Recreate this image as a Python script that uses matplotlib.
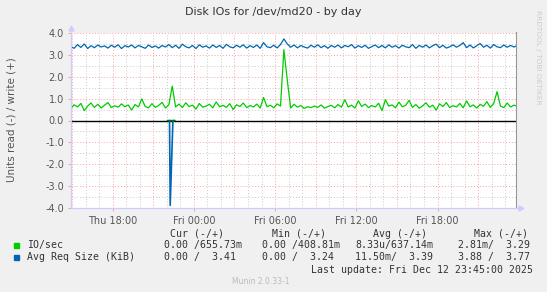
import numpy as np
import matplotlib
matplotlib.use("Agg")
import matplotlib.pyplot as plt
from matplotlib.lines import Line2D

# --- data (hours since Thu 15:00, one sample every 15 minutes from -0.1 h) ---
t_start = -0.1
t_step = 0.25

io_write = [
    0.55, 0.72, 0.62, 0.78, 0.45, 0.66, 0.80, 0.60, 0.74, 0.57,
    0.70, 0.82, 0.59, 0.67, 0.61, 0.76, 0.63, 0.71, 0.48, 0.73,
    0.62, 0.99, 0.64, 0.58, 0.77, 0.60, 0.69, 0.83, 0.57, 0.72,
    1.57, 0.62, 0.75, 0.59, 0.81, 0.64, 0.70, 0.52, 0.78, 0.61,
    0.66, 0.74, 0.58, 0.85, 0.63, 0.69, 0.60, 0.77, 0.50, 0.72,
    0.64, 0.80, 0.59, 0.68, 0.62, 0.75, 0.57, 1.05, 0.63, 0.70,
    0.58, 0.76, 0.66, 3.24, 1.85, 0.57, 0.74, 0.61, 0.68, 0.55,
    0.63, 0.59, 0.66, 0.60, 0.71, 0.56, 0.64, 0.69, 0.58, 0.73,
    0.61, 0.95, 0.62, 0.70, 0.57, 0.90, 0.64, 0.75, 0.59, 0.68,
    0.62, 0.79, 0.45, 0.95, 0.66, 0.71, 0.58, 0.84, 0.63, 0.69,
    0.92, 0.60, 0.73, 0.56, 0.67, 0.81, 0.61, 0.70, 0.47, 0.76,
    0.64, 0.82, 0.59, 0.68, 0.62, 0.78, 0.58, 0.90, 0.63, 0.71,
    0.57, 0.74, 0.65, 0.86, 0.60, 0.77, 1.32, 0.66, 0.59, 0.80,
    0.62, 0.70, 0.66,
]
req_write = [
    3.38, 3.30, 3.47, 3.34, 3.50, 3.29, 3.42, 3.33, 3.45, 3.36,
    3.41, 3.31, 3.44, 3.35, 3.46, 3.29, 3.42, 3.36, 3.45, 3.32,
    3.43, 3.37, 3.30, 3.45, 3.34, 3.41, 3.31, 3.43, 3.36, 3.47,
    3.33, 3.44, 3.30, 3.49, 3.37, 3.32, 3.43, 3.29, 3.46, 3.35,
    3.41, 3.31, 3.45, 3.34, 3.43, 3.30, 3.48, 3.37, 3.32, 3.44,
    3.35, 3.46, 3.31, 3.42, 3.34, 3.45, 3.30, 3.56, 3.37, 3.33,
    3.44, 3.32, 3.47, 3.73, 3.50, 3.35, 3.45, 3.32, 3.43, 3.36,
    3.31, 3.44, 3.35, 3.46, 3.33, 3.42, 3.30, 3.43, 3.35, 3.45,
    3.32, 3.43, 3.37, 3.47, 3.31, 3.42, 3.34, 3.44, 3.30, 3.38,
    3.45, 3.33, 3.43, 3.32, 3.46, 3.35, 3.42, 3.31, 3.44, 3.37,
    3.33, 3.47, 3.30, 3.43, 3.35, 3.45, 3.32, 3.42, 3.49, 3.33,
    3.44, 3.31, 3.37, 3.46, 3.35, 3.43, 3.56, 3.33, 3.45, 3.32,
    3.42, 3.52, 3.35, 3.44, 3.31, 3.47, 3.37, 3.33, 3.45, 3.35,
    3.43, 3.36, 3.42,
]
# read side (drawn negative): only the short burst around Thu 22:20
req_read_t = [7.20, 7.25, 7.45, 7.50]
req_read_v = [0.0, -3.88, 0.0, 0.0]
io_read_t = [7.05, 7.20, 7.50, 7.60]
io_read_v = [0.0, -0.003, -0.003, 0.0]

xtick_hours = [3, 9, 15, 21, 27]
xtick_labels = ["Thu 18:00", "Fri 00:00", "Fri 06:00", "Fri 12:00", "Fri 18:00"]
ytick_vals = [-4.0, -3.0, -2.0, -1.0, 0.0, 1.0, 2.0, 3.0, 4.0]

legend_names = ["IO/sec", "Avg Req Size (KiB)"]
legend_cols = ["Cur (-/+)", "Min (-/+)", "Avg (-/+)", "Max (-/+)"]
legend_vals = [
    ["0.00 /655.73m", "0.00 /408.81m", "8.33u/637.14m", "2.81m/  3.29"],
    ["0.00 /  3.41", "0.00 /  3.24", "11.50m/  3.39", "3.88 /  3.77"],
]
last_update = "Last update: Fri Dec 12 23:45:00 2025"

GREEN = "#00CC00"
BLUE = "#0066B3"

# --- figure ---
W, H = 547, 292
fig = plt.figure(figsize=(W / 100, H / 100), dpi=100, facecolor="#F0F0F0")

def fx(px):
    return px / W

def fy(py):
    return 1 - py / H

L, R, T, B = 71, 516, 33, 208
ax = fig.add_axes([fx(L), fy(B), fx(R - L), fy(T) - fy(B)])
ax.set_facecolor("white")
x0, x1 = -0.08, 32.8
ax.set_xlim(x0, x1)
ax.set_ylim(-4, 4)

# grid
dot = (0, (1, 2))
for h in range(0, 33):
    if h % 3 == 0:
        ax.axvline(h, color="#FF9E9E", lw=0.7, ls=dot, zorder=1)
    else:
        ax.axvline(h, color="#C8C8C8", lw=0.7, ls=dot, zorder=1)
for v in np.arange(-4, 4.01, 0.5):
    if v == 0:
        continue
    if float(v).is_integer():
        ax.axhline(v, color="#FF9E9E", lw=0.7, ls=dot, zorder=1)
    else:
        ax.axhline(v, color="#C8C8C8", lw=0.7, ls=dot, zorder=1)

t = t_start + t_step * np.arange(len(io_write))
ax.axhline(0, color="black", lw=1.0, zorder=2)
ax.plot(t, io_write, color=GREEN, lw=0.9, zorder=3)
ax.plot(t, req_write, color=BLUE, lw=0.9, zorder=3)
ax.plot(req_read_t, req_read_v, color=BLUE, lw=1.2, zorder=4)
ax.plot(io_read_t, io_read_v, color="#007700", lw=1.0, zorder=4)

# axes look
for s in ["top", "right"]:
    ax.spines[s].set_visible(False)
ax.spines["left"].set_color("#CCCCFF")
ax.spines["bottom"].set_color("#CCCCFF")
ax.spines["left"].set_linewidth(0.8)
ax.spines["bottom"].set_linewidth(0.8)

ax.set_yticks(ytick_vals)
ax.set_yticklabels([f"{v:.1f}" for v in ytick_vals])
ax.set_xticks(xtick_hours)
ax.set_xticklabels(xtick_labels)
ax.tick_params(axis="both", length=2, width=0.7, color="#FF9E9E",
               labelsize=7, labelcolor="#555555", pad=3)
ax.tick_params(axis="x", pad=4)

# right border and arrows
fig.add_artist(Line2D([fx(R), fx(R)], [fy(T - 1), fy(B)], color="#999999", lw=0.8))
fig.add_artist(Line2D([fx(L), fx(L)], [fy(B), fy(T - 5)], color="#CCCCFF", lw=0.8))
fig.add_artist(Line2D([fx(L), fx(R + 5)], [fy(B), fy(B)], color="#CCCCFF", lw=0.8))
fig.add_artist(Line2D([fx(L)], [fy(T - 5)], marker="^", ms=3.5, color="#CCCCFF", lw=0))
fig.add_artist(Line2D([fx(R + 5)], [fy(B)], marker=">", ms=3.5, color="#CCCCFF", lw=0))

# texts
fig.text(fx(273), fy(12), "Disk IOs for /dev/md20 - by day", ha="center", va="center",
         fontsize=8, color="#333333")
fig.text(fx(12), fy(120), "Units read (-) / write (+)", rotation=90, ha="center",
         va="center", fontsize=7.5, color="#555555")
fig.text(fx(538), fy(57), "RRDTOOL / TOBI OETIKER", rotation=270, ha="center",
         va="center", fontsize=5.3, color="#CCCCCC")

mono = "DejaVu Sans Mono"
fs = 7.1
col_x = [170, 272, 373, 473.5]
for cx, lab in zip(col_x, legend_cols):
    fig.text(fx(cx), fy(234), lab, family=mono, fontsize=fs, color="#333333",
             va="center", ha="left")
row_y = [245, 257]
val_x = [164, 262, 355, 458]
for i, (name, col) in enumerate(zip(legend_names, [GREEN, BLUE])):
    y = row_y[i]
    fig.patches.append(plt.Rectangle((fx(14), fy(y + 2.5)), fx(5), 5 / H,
                                     transform=fig.transFigure, color=col))
    fig.text(fx(27), fy(y), name, family=mono, fontsize=fs, color="#333333",
             va="center", ha="left")
    for vx, val in zip(val_x, legend_vals[i]):
        fig.text(fx(vx), fy(y), val, family=mono, fontsize=fs, color="#333333",
                 va="center", ha="left")
fig.text(fx(533), fy(270), last_update, family=mono, fontsize=fs, color="#333333",
         va="center", ha="right")
fig.text(fx(261), fy(282), "Munin 2.0.33-1", fontsize=5.5, color="#BBBBBB",
         va="center", ha="center")

fig.savefig("out.png", dpi=100, facecolor=fig.get_facecolor())
